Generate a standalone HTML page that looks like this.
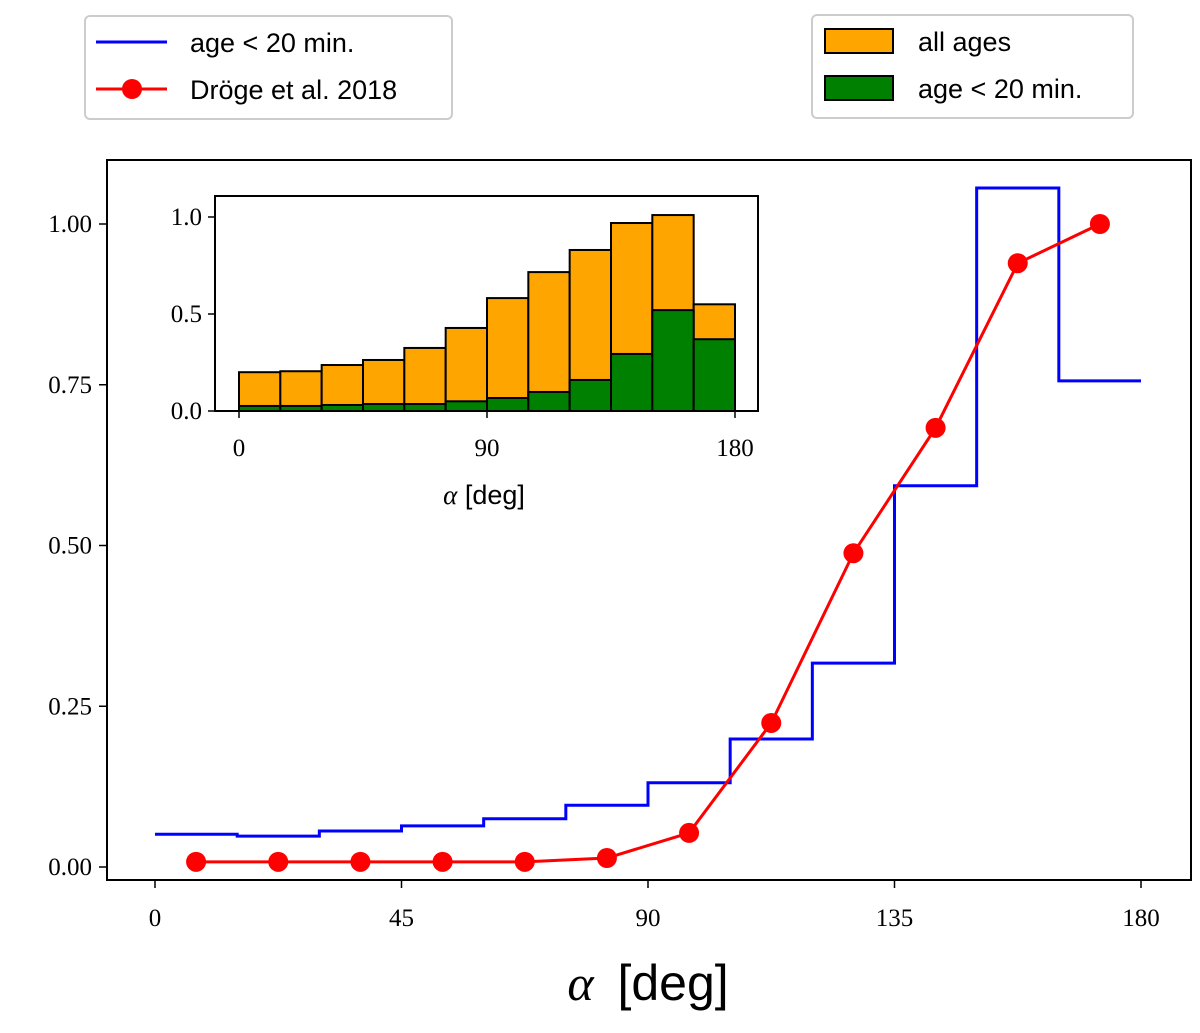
<!DOCTYPE html>
<html><head><meta charset="utf-8"><style>
body{margin:0;background:#fff;}
svg text{font-family:"Liberation Serif",serif;}
.sans{font-family:"Liberation Sans",sans-serif !important;}
</style></head><body>
<svg id="chart" width="1200" height="1028" xmlns="http://www.w3.org/2000/svg">
<g id="main"></g><g id="inset"></g>
<g>
<rect x="85" y="16" width="367" height="103" rx="5" fill="#fff" stroke="#ccc" stroke-width="2"/>
<line x1="96" y1="42" x2="167" y2="42" stroke="blue" stroke-width="3"/>
<text class="sans" x="190" y="52" font-size="27">age &lt; 20 min.</text>
<line x1="96" y1="89" x2="167" y2="89" stroke="red" stroke-width="3"/>
<circle cx="132" cy="89" r="10" fill="red"/>
<text class="sans" x="190" y="99" font-size="27">Dröge et al. 2018</text>
</g>
<g>
<rect x="812" y="15" width="321" height="103" rx="5" fill="#fff" stroke="#ccc" stroke-width="2"/>
<rect x="825" y="29" width="68" height="24" fill="orange" stroke="#000" stroke-width="2"/>
<text class="sans" x="918" y="51" font-size="27">all ages</text>
<rect x="825" y="76" width="68" height="24" fill="green" stroke="#000" stroke-width="2"/>
<text class="sans" x="918" y="98" font-size="27">age &lt; 20 min.</text>
</g>
</svg>
<script>
const binEdges=[0,15,30,45,60,75,90,105,120,135,150,165,180];
const blueVals=[0.051,0.048,0.056,0.064,0.075,0.096,0.131,0.199,0.317,0.593,1.056,0.756];
const redX=[7.5,22.5,37.5,52.5,67.5,82.5,97.5,112.5,127.5,142.5,157.5,172.5];
const redVals=[0.008,0.008,0.008,0.008,0.008,0.014,0.053,0.224,0.488,0.683,0.939,1.0];
const insetAll=[0.20,0.205,0.237,0.263,0.325,0.428,0.582,0.716,0.83,0.969,1.01,0.55];
const insetYoung=[0.026,0.026,0.031,0.036,0.036,0.05,0.067,0.098,0.16,0.294,0.52,0.37];
const mainXTicks=[0,45,90,135,180];
const mainYTicks=["0.00","0.25","0.50","0.75","1.00"];
const insetXTicks=[0,90,180];
const insetYTicks=["0.0","0.5","1.0"];
const NS="http://www.w3.org/2000/svg";
function mk(p,t,a){const e=document.createElementNS(NS,t);for(const k in a)e.setAttribute(k,a[k]);p.appendChild(e);return e;}
const M=document.getElementById('main');
const mx=v=>155+v*(1141-155)/180, my=v=>867-v*643;
let r=mk(M,'rect',{x:107,y:160,width:1084,height:720,fill:'none',stroke:'#000','stroke-width':2});


mainXTicks.forEach(t=>{mk(M,'line',{x1:mx(t),x2:mx(t),y1:880,y2:888,stroke:'#000','stroke-width':1.5});
 const e=mk(M,'text',{x:mx(t),y:926,'font-size':25,'text-anchor':'middle'});e.textContent=t;
 
 });
mainYTicks.forEach(t=>{const y=my(+t);mk(M,'line',{x1:99,x2:107,y1:y,y2:y,stroke:'#000','stroke-width':1.5});
 const e=mk(M,'text',{x:92,y:y+8,'font-size':25,'text-anchor':'end'});e.textContent=t;
 
 });
let xt=mk(M,'text',{x:648,y:1000,'font-size':50,'text-anchor':'middle'});
xt.innerHTML='<tspan font-style="italic">α</tspan><tspan class="sans" dx="10"> [deg]</tspan>';


let d='';blueVals.forEach((v,i)=>{d+=(i?'L':'M')+mx(binEdges[i])+' '+my(v)+' L'+mx(binEdges[i+1])+' '+my(v)+' ';});
let bl=mk(M,'path',{d:d,fill:'none',stroke:'blue','stroke-width':3});


let rd='';redVals.forEach((v,i)=>{rd+=(i?'L':'M')+mx(redX[i])+' '+my(v)+' ';});
let rl=mk(M,'path',{d:rd,fill:'none',stroke:'red','stroke-width':3});


redVals.forEach((v,i)=>{const c=mk(M,'circle',{cx:mx(redX[i]),cy:my(v),r:10,fill:'red'});
 
 });
const I=document.getElementById('inset');
const ix=v=>239+v*(735-239)/180, iy=v=>411-v*194;
mk(I,'rect',{x:215,y:196,width:543,height:215,fill:'#fff'});
insetAll.forEach((v,i)=>{const b=mk(I,'rect',{x:ix(binEdges[i]),y:iy(v),width:ix(binEdges[i+1])-ix(binEdges[i]),height:iy(0)-iy(v),fill:'orange',stroke:'#000','stroke-width':2});
 
 });
insetYoung.forEach((v,i)=>{const b=mk(I,'rect',{x:ix(binEdges[i]),y:iy(v),width:ix(binEdges[i+1])-ix(binEdges[i]),height:iy(0)-iy(v),fill:'green',stroke:'#000','stroke-width':2});
 
 });
let ir=mk(I,'rect',{x:215,y:196,width:543,height:215,fill:'none',stroke:'#000','stroke-width':2});


insetXTicks.forEach(t=>{mk(I,'line',{x1:ix(t),x2:ix(t),y1:411,y2:418,stroke:'#000','stroke-width':1.5});
 const e=mk(I,'text',{x:ix(t),y:456,'font-size':25,'text-anchor':'middle'});e.textContent=t;
 
 });
insetYTicks.forEach(t=>{const y=iy(+t);mk(I,'line',{x1:208,x2:215,y1:y,y2:y,stroke:'#000','stroke-width':1.5});
 const e=mk(I,'text',{x:202,y:y+8,'font-size':25,'text-anchor':'end'});e.textContent=t;
 
 });
let it=mk(I,'text',{x:484,y:504,'font-size':27,'text-anchor':'middle'});
it.innerHTML='<tspan font-style="italic">α</tspan><tspan class="sans"> [deg]</tspan>';


</script>
</body></html>
